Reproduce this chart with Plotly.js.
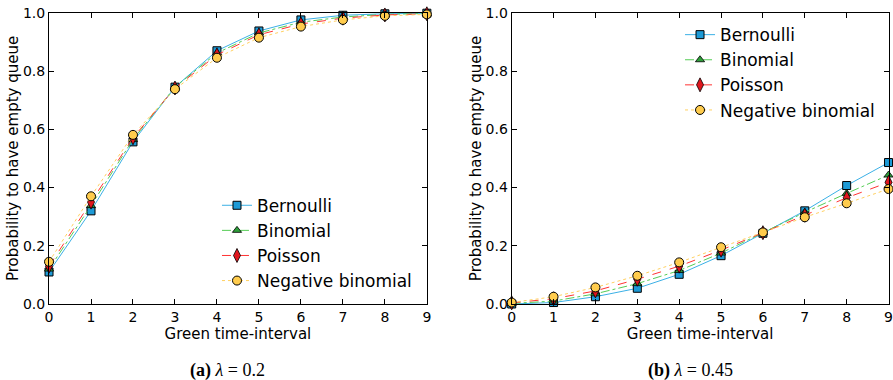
<!DOCTYPE html>
<html>
<head>
<meta charset="utf-8">
<script src="https://cdn.plot.ly/plotly-3.0.1.min.js"></script>
<style>html,body{margin:0;padding:0;background:#fff;}#chart{width:893px;height:380px;}</style>
</head>
<body>
<div id="chart"></div>
<script>
// ---- data ----
const intervals = [0, 1, 2, 3, 4, 5, 6, 7, 8, 9];
const seriesNames = ["Bernoulli", "Binomial", "Poisson", "Negative binomial"];

// (a) lambda = 0.2
const bernoulliA = [0.110, 0.320, 0.557, 0.745, 0.870, 0.938, 0.976, 0.992, 0.997, 0.999];
const binomialA  = [0.120, 0.338, 0.565, 0.745, 0.862, 0.931, 0.968, 0.986, 0.995, 0.998];
const poissonA   = [0.130, 0.350, 0.571, 0.742, 0.856, 0.925, 0.962, 0.982, 0.993, 0.997];
const negbinA    = [0.145, 0.370, 0.581, 0.738, 0.846, 0.915, 0.953, 0.976, 0.990, 0.995];

// (b) lambda = 0.45
const bernoulliB = [0.000, 0.005, 0.025, 0.054, 0.102, 0.166, 0.243, 0.320, 0.407, 0.486];
const binomialB  = [0.002, 0.010, 0.035, 0.070, 0.115, 0.175, 0.245, 0.315, 0.380, 0.443];
const poissonB   = [0.004, 0.018, 0.045, 0.085, 0.130, 0.185, 0.245, 0.305, 0.365, 0.418];
const negbinB    = [0.005, 0.025, 0.057, 0.097, 0.143, 0.195, 0.246, 0.298, 0.346, 0.395];

const captionA = "<b>(a)</b> <i>λ</i> = 0.2";
const captionB = "<b>(b)</b> <i>λ</i> = 0.45";
const xTitle = "Green time-interval";
const yTitle = "Probability to have empty queue";

// ---- styles ----
const styles = [
  {line: {color: "#3bb0e6", width: 1, dash: "solid"}, marker: {symbol: "square", size: 8, color: "#1d9ad6", line: {color: "#000", width: 1}}},
  {line: {color: "#55cc55", width: 1, dash: "dashdot"}, marker: {symbol: "triangle-up", size: 8, color: "#2e9e3a", line: {color: "#000", width: 0.8}}},
  {line: {color: "#ff3333", width: 1, dash: "dash"}, marker: {symbol: "diamond-tall", size: 10, color: "#e0161e", line: {color: "#000", width: 0.8}}},
  {line: {color: "#ffd060", width: 1, dash: "dot"}, marker: {symbol: "circle", size: 9, color: "#ffcc4d", line: {color: "#000", width: 1}}}
];

const dataA = [bernoulliA, binomialA, poissonA, negbinA];
const dataB = [bernoulliB, binomialB, poissonB, negbinB];

const traces = [];
dataA.forEach((ys, i) => traces.push({
  x: intervals, y: ys, name: seriesNames[i], type: "scatter", mode: "lines+markers",
  xaxis: "x", yaxis: "y", legend: "legend",
  line: styles[i].line, marker: styles[i].marker, cliponaxis: false
}));
dataB.forEach((ys, i) => traces.push({
  x: intervals, y: ys, name: seriesNames[i], type: "scatter", mode: "lines+markers",
  xaxis: "x2", yaxis: "y2", legend: "legend2",
  line: styles[i].line, marker: styles[i].marker, cliponaxis: false
}));

const tickFont = {family: "DejaVu Sans", size: 14, color: "#000"};
const titleFont = {family: "DejaVu Sans", size: 15, color: "#000"};

function xAxis(domain, anchor) {
  return {
    domain: domain, anchor: anchor, range: [0, 9], tickmode: "linear", tick0: 0, dtick: 1,
    ticks: "inside", ticklen: 5, tickwidth: 1, tickcolor: "#000", mirror: "allticks",
    showline: true, linecolor: "#000", linewidth: 1, showgrid: false, zeroline: false,
    tickfont: tickFont, title: {text: xTitle, font: titleFont, standoff: 0}
  };
}
function yAxis(anchor) {
  return {
    domain: [0.2, 0.966], anchor: anchor, range: [0, 1], tickmode: "linear", tick0: 0, dtick: 0.2,
    tickformat: ".1f", ticks: "inside", ticklen: 5, tickwidth: 1, tickcolor: "#000", mirror: "allticks",
    showline: true, linecolor: "#000", linewidth: 1, showgrid: false, zeroline: false,
    tickfont: tickFont, title: {text: yTitle, font: titleFont, standoff: 0}
  };
}

const legendBase = {
  font: {family: "DejaVu Sans", size: 17, color: "#000"}, bgcolor: "rgba(255,255,255,0)",
  borderwidth: 0, traceorder: "normal", xanchor: "left", yanchor: "top",
  itemwidth: 30
};

const layout = {
  width: 893, height: 380, margin: {l: 0, r: 0, t: 0, b: 0},
  paper_bgcolor: "#fff", plot_bgcolor: "#fff", showlegend: true,
  xaxis: xAxis([0.0549, 0.478], "y"),
  yaxis: yAxis("x"),
  xaxis2: xAxis([0.573, 0.995], "y2"),
  yaxis2: yAxis("x2"),
  legend: Object.assign({}, legendBase, {x: 0.243, y: 0.506}),
  legend2: Object.assign({}, legendBase, {x: 0.7615, y: 0.955}),
  annotations: [
    {text: captionA, xref: "paper", yref: "paper", x: 228 / 893, y: 1 - 370 / 380, xanchor: "center", yanchor: "middle",
     showarrow: false, font: {family: "Liberation Serif", size: 18, color: "#000"}},
    {text: captionB, xref: "paper", yref: "paper", x: 690 / 893, y: 1 - 370 / 380, xanchor: "center", yanchor: "middle",
     showarrow: false, font: {family: "Liberation Serif", size: 18, color: "#000"}}
  ]
};

Plotly.newPlot("chart", traces, layout, {staticPlot: true, displayModeBar: false});
</script>
</body>
</html>
